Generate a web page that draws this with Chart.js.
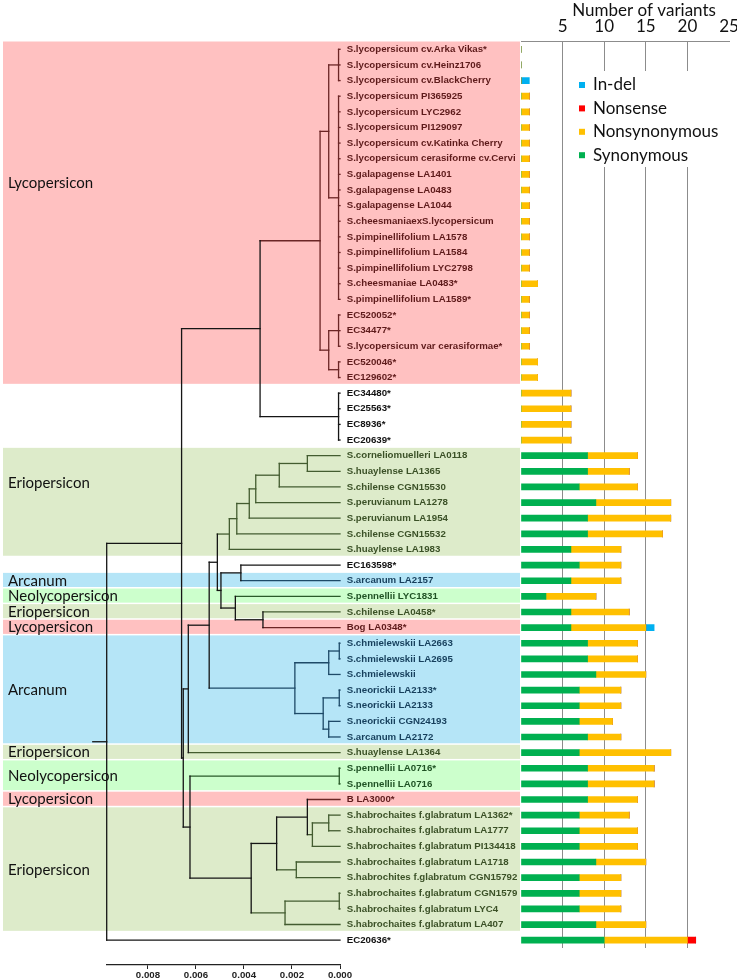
<!DOCTYPE html>
<html>
<head>
<meta charset="utf-8">
<title>Variants per accession</title>
<script src="https://cdn.jsdelivr.net/npm/chart.js@4.4.1/dist/chart.umd.min.js"></script>
<style>
  html, body { margin: 0; padding: 0; background: #fff; }
  #wrap { position: relative; width: 737px; height: 980px; }
  #wrap canvas { position: absolute; left: 0; top: 0; }
</style>
</head>
<body>
<div id="wrap">
  <canvas id="treeChart" width="737" height="980"></canvas>
  <canvas id="barChart" width="737" height="980"></canvas>
</div>
<script>
const accessions = [
  "S.lycopersicum cv.Arka Vikas*", "S.lycopersicum cv.Heinz1706", "S.lycopersicum cv.BlackCherry",
  "S.lycopersicum PI365925", "S.lycopersicum LYC2962", "S.lycopersicum PI129097",
  "S.lycopersicum cv.Katinka Cherry", "S.lycopersicum cerasiforme cv.Cervi", "S.galapagense LA1401",
  "S.galapagense LA0483", "S.galapagense LA1044", "S.cheesmaniaexS.lycopersicum",
  "S.pimpinellifolium LA1578", "S.pimpinellifolium LA1584", "S.pimpinellifolium LYC2798",
  "S.cheesmaniae LA0483*", "S.pimpinellifolium LA1589*", "EC520052*", "EC34477*",
  "S.lycopersicum var cerasiformae*", "EC520046*", "EC129602*", "EC34480*", "EC25563*",
  "EC8936*", "EC20639*", "S.corneliomuelleri LA0118", "S.huaylense LA1365",
  "S.chilense CGN15530", "S.peruvianum LA1278", "S.peruvianum LA1954", "S.chilense CGN15532",
  "S.huaylense LA1983", "EC163598*", "S.arcanum LA2157", "S.pennellii LYC1831",
  "S.chilense LA0458*", "Bog LA0348*", "S.chmielewskii LA2663", "S.chmielewskii LA2695",
  "S.chmielewskii", "S.neorickii LA2133*", "S.neorickii LA2133", "S.neorickii CGN24193",
  "S.arcanum LA2172", "S.huaylense LA1364", "S.pennellii LA0716*", "S.pennellii LA0716",
  "B LA3000*", "S.habrochaites f.glabratum LA1362*", "S.habrochaites f.glabratum LA1777",
  "S.habrochaites f.glabratum PI134418", "S.habrochaites f.glabratum LA1718",
  "S.habrochites f.glabratum CGN15792", "S.habrochaites f.glabratum CGN1579",
  "S.habrochaites f.glabratum LYC4", "S.habrochaites f.glabratum LA407", "EC20636*"
];

const synonymous = [
  0, 0, 0, 0, 0, 0, 0, 0, 0, 0,
  0, 0, 0, 0, 0, 0, 0, 0, 0, 0,
  0, 0, 0, 0, 0, 0, 8, 8, 7, 9,
  8, 8, 6, 7, 6, 3, 6, 6, 8, 8,
  9, 7, 7, 7, 8, 7, 8, 8, 8, 7,
  7, 7, 9, 7, 7, 7, 9, 10
];
const nonsynonymous = [
  0, 0, 0, 1, 1, 1, 1, 1, 1, 1,
  1, 1, 1, 1, 1, 2, 1, 1, 1, 1,
  2, 2, 6, 6, 6, 6, 6, 5, 7, 9,
  10, 9, 6, 5, 6, 6, 7, 9, 6, 6,
  6, 5, 5, 4, 4, 11, 8, 8, 6, 6,
  7, 7, 6, 5, 5, 5, 6, 10
];
const nonsense = [
  0, 0, 0, 0, 0, 0, 0, 0, 0, 0,
  0, 0, 0, 0, 0, 0, 0, 0, 0, 0,
  0, 0, 0, 0, 0, 0, 0, 0, 0, 0,
  0, 0, 0, 0, 0, 0, 0, 0, 0, 0,
  0, 0, 0, 0, 0, 0, 0, 0, 0, 0,
  0, 0, 0, 0, 0, 0, 0, 1
];
const indel = [
  0, 0, 1, 0, 0, 0, 0, 0, 0, 0,
  0, 0, 0, 0, 0, 0, 0, 0, 0, 0,
  0, 0, 0, 0, 0, 0, 0, 0, 0, 0,
  0, 0, 0, 0, 0, 0, 0, 1, 0, 0,
  0, 0, 0, 0, 0, 0, 0, 0, 0, 0,
  0, 0, 0, 0, 0, 0, 0, 0
];

// shaded groups of rows (first row, last row, section name)
const bandStart = [0, 26, 34, 35, 36, 37, 38, 45, 46, 48, 49];
const bandEnd = [21, 32, 34, 35, 36, 37, 44, 45, 47, 48, 56];
const bandClade = ["Lycopersicon", "Eriopersicon", "Arcanum", "Neolycopersicon", "Eriopersicon",
  "Lycopersicon", "Arcanum", "Eriopersicon", "Neolycopersicon", "Lycopersicon", "Eriopersicon"];

// tree: [node, distance, children], children are row numbers or earlier nodes
const treeNodes = [
  ["n1", 0.00006, [0, 1, 2]],
  ["n2", 0.00006, [3, 4, 5, 6, 7, 8, 9, 10, 11, 12, 13, 14, 15, 16]],
  ["n3", 0.00047, ["n1", "n2"]],
  ["n4", 0.00006, [17, 18, 19]],
  ["n5", 0.00006, [20, 21]],
  ["n6", 0.00047, ["n4", "n5"]],
  ["n7", 0.00083, ["n3", "n6"]],
  ["n8", 0.00006, [22, 23, 24, 25]],
  ["lyc", 0.00333, ["n7", "n8"]],
  ["e1", 0.00136, [26, 27]],
  ["e2", 0.00253, ["e1", 28]],
  ["e3", 0.00351, ["e2", 29]],
  ["e4", 0.00378, ["e3", 30]],
  ["e5", 0.0043, ["e4", 31]],
  ["e6", 0.00461, ["e5", 32]],
  ["m1", 0.00413, [33, 34]],
  ["m2", 0.00321, [36, 37]],
  ["m3", 0.00436, [35, "m2"]],
  ["m4", 0.00496, ["m1", "m3"]],
  ["m5", 0.00511, ["e6", "m4"]],
  ["a1", 0.00003, [38, 39]],
  ["a2", 0.00047, ["a1", 40]],
  ["a3", 0.00003, [41, 42]],
  ["a4", 0.00047, [43, 44]],
  ["a5", 0.0007, ["a3", "a4"]],
  ["a6", 0.00188, ["a2", "a5"]],
  ["m6", 0.00545, ["m5", "a6"]],
  ["m7", 0.00632, ["m6", 45]],
  ["p1", 0.00003, [46, 47]],
  ["h1", 0.00047, [49, 50]],
  ["h2", 0.00115, ["h1", 51]],
  ["h3", 0.00136, [48, "h2"]],
  ["h4", 0.00182, [52, 53]],
  ["h5", 0.00264, ["h3", "h4"]],
  ["h6", 0.00003, [54, 55]],
  ["h7", 0.00229, ["h6", 56]],
  ["h8", 0.0037, ["h5", "h7"]],
  ["h9", 0.00625, ["p1", "h8"]],
  ["m8", 0.00653, ["m7", "h9"]],
  ["m9", 0.0066, ["lyc", "m8"]],
  ["root", 0.00972, ["m9", 57]]
];
const rootStub = 0.0103;

const bandFill = { Lycopersicon: "#ffc1c1", Eriopersicon: "#ddebca", Arcanum: "#b5e5f7", Neolycopersicon: "#ccffcc" };
const textColor = { Lycopersicon: "#5e1b1b", Eriopersicon: "#3b5127", Arcanum: "#163f5c", Neolycopersicon: "#1f5224" };
const lineColor = { Lycopersicon: "#6b2626", Eriopersicon: "#435c30", Arcanum: "#1e4a68", Neolycopersicon: "#2a5a2a" };
// row where each section name sits
const bandLabelRow = [8.55, 27.75, 34, 35, 36, 37, 41, 45, 46.5, 48, 52.5];

Chart.defaults.font.family = "Lato";
Chart.defaults.color = "#111";

function cladeOfRow(row) {
  for (let b = 0; b < bandStart.length; b++) {
    if (row >= bandStart[b] && row <= bandEnd[b]) return bandClade[b];
  }
  return null;
}

const nodeY = {}, nodeH = {}, nodeClade = {};
const childY = c => typeof c === "number" ? c : nodeY[c];
const childH = c => typeof c === "number" ? 0 : nodeH[c];
const childClade = c => typeof c === "number" ? cladeOfRow(c) : nodeClade[c];

const segments = [];
treeNodes.forEach(([id, h, kids]) => {
  const ys = kids.map(childY);
  const cl = kids.map(childClade);
  nodeH[id] = h;
  nodeY[id] = (ys[0] + ys[ys.length - 1]) / 2;
  nodeClade[id] = cl.every(c => c && c === cl[0]) ? cl[0] : null;
  segments.push({ a: [h, ys[0]], b: [h, ys[ys.length - 1]], clade: nodeClade[id] });
  kids.forEach((k, i) => {
    segments.push({ a: [h, ys[i]], b: [childH(k), ys[i]], clade: cl[i] });
  });
});
segments.push({ a: [rootStub, nodeY.root], b: [nodeH.root, nodeY.root], clade: null });

const treeData = segments.map(s => ({
  data: [{ x: s.a[0], y: s.a[1] }, { x: s.b[0], y: s.b[1] }],
  borderColor: s.clade ? lineColor[s.clade] : "#151515",
  borderWidth: 1.3,
  borderCapStyle: "square",
  showLine: true,
  pointRadius: 0,
  clip: false
}));

const bandPlugin = {
  id: "bands",
  beforeDraw(chart) {
    const { ctx, scales: { y } } = chart;
    ctx.save();
    ctx.font = "15px Lato";
    ctx.textBaseline = "middle";
    bandStart.forEach((s, b) => {
      const top = y.getPixelForValue(s - 0.5);
      const bottom = y.getPixelForValue(bandEnd[b] + 0.5);
      ctx.fillStyle = bandFill[bandClade[b]];
      ctx.fillRect(3, top, 517, bottom - top - 1.5);
      ctx.fillStyle = "#111";
      ctx.fillText(bandClade[b], 8, y.getPixelForValue(bandLabelRow[b]));
    });
    ctx.restore();
  }
};

new Chart(document.getElementById("treeChart"), {
  type: "scatter",
  data: { datasets: treeData },
  plugins: [bandPlugin],
  options: {
    responsive: false,
    animation: false,
    layout: { padding: { left: 106.7, right: 397, top: 41.5, bottom: 0 } },
    plugins: { legend: { display: false }, tooltip: { enabled: false } },
    scales: {
      x: {
        type: "linear",
        reverse: true,
        min: 0,
        max: 0.00972,
        afterFit(scale) { scale.height = 15; },
        ticks: {
          stepSize: 0.002,
          includeBounds: false,
          maxRotation: 0,
          padding: 1,
          color: "#222",
          font: { family: "Liberation Sans", weight: "bold", size: 9.7 },
          callback: v => v.toFixed(3)
        },
        grid: { drawOnChartArea: false, tickLength: 4, color: "#222" },
        border: { color: "#222", width: 1.3 }
      },
      y: { display: false, reverse: true, min: -0.5, max: 58.59 }
    }
  }
});

const legendPlugin = {
  id: "boxLegend",
  beforeDatasetsDraw(chart) {
    const { ctx } = chart;
    ctx.save();
    ctx.fillStyle = "#fff";
    ctx.fillRect(575, 71, 150, 96);
    ctx.font = "17px Lato";
    ctx.textBaseline = "middle";
    chart.data.datasets.slice().reverse().forEach((ds, i) => {
      const cy = 85 + i * 23.4;
      ctx.fillStyle = ds.backgroundColor;
      ctx.fillRect(579, cy - 3, 6, 6);
      ctx.fillStyle = "#111";
      ctx.fillText(ds.label, 593, cy);
    });
    ctx.restore();
  }
};

new Chart(document.getElementById("barChart"), {
  type: "bar",
  data: {
    labels: accessions,
    datasets: [
      { label: "Synonymous", data: synonymous, backgroundColor: "#00b050" },
      { label: "Nonsynonymous", data: nonsynonymous, backgroundColor: "#ffc000" },
      { label: "Nonsense", data: nonsense, backgroundColor: "#ff0000" },
      { label: "In-del", data: indel, backgroundColor: "#00b0f0" }
    ]
  },
  plugins: [legendPlugin],
  options: {
    indexAxis: "y",
    responsive: false,
    animation: false,
    barThickness: 6,
    borderWidth: 0,
    layout: { padding: { left: 346.7, right: 8, top: 0, bottom: 32 } },
    plugins: { legend: { display: false }, tooltip: { enabled: false } },
    scales: {
      x: {
        position: "top",
        stacked: true,
        min: 0,
        max: 25,
        afterFit(scale) {
          scale.height = 41.5;
          scale.paddingLeft = 0;
          scale.paddingRight = 0;
        },
        title: {
          display: true,
          text: "Number of variants   ",
          align: "end",
          color: "#111",
          font: { size: 17 },
          padding: 0
        },
        ticks: {
          stepSize: 5,
          padding: 5,
          color: "#111",
          font: { size: 17 },
          callback: v => v === 0 ? "" : v
        },
        grid: {
          drawTicks: false,
          color: ctx => (ctx.tick && ctx.tick.value > 0 && ctx.tick.value < 25) ? "#8c8c8c" : "rgba(0,0,0,0)"
        },
        border: { display: true, color: "#8c8c8c" }
      },
      y: {
        stacked: true,
        afterFit(scale) { scale.width = 174.3; },
        grid: { display: false },
        border: { display: false },
        ticks: {
          autoSkip: false,
          crossAlign: "far",
          font: { family: "Liberation Sans", weight: "bold", size: 9.7 },
          color: ctx => {
            const c = cladeOfRow(ctx.index);
            return c ? textColor[c] : "#111";
          }
        }
      }
    }
  }
});
</script>
</body>
</html>
